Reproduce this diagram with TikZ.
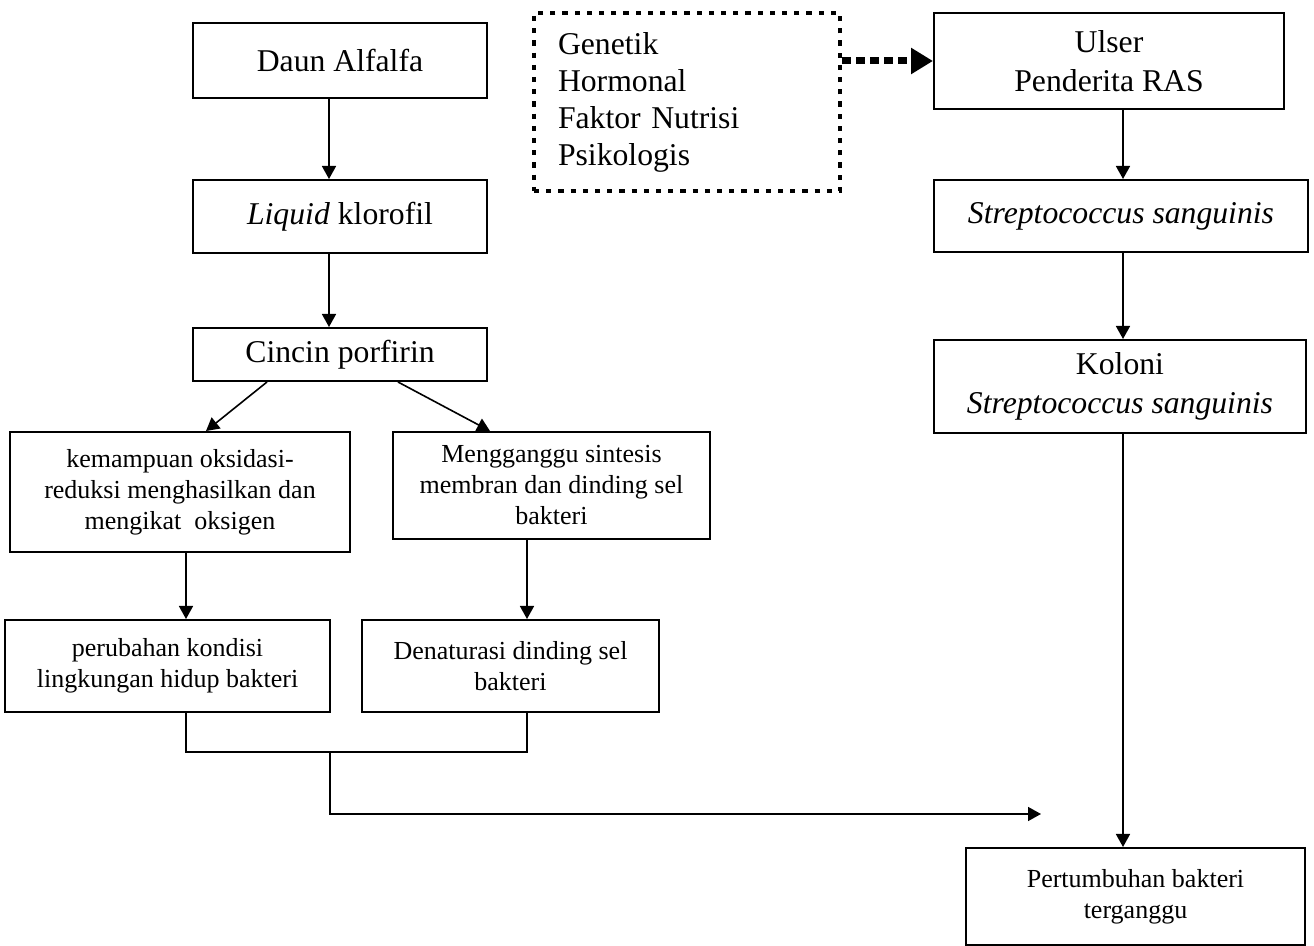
\documentclass[tikz,border=0pt]{standalone}
\usepackage{fontspec}
\setmainfont{Liberation Serif}
\usetikzlibrary{calc,arrows.meta}
\newcommand{\bigtxt}{\fontsize{15.85pt}{19.5pt}\selectfont}
\newcommand{\smalltxt}{\fontsize{13pt}{15.5pt}\selectfont}
\tikzset{
	box/.style={rectangle,draw,line width=1pt,align=center,inner sep=0pt,font=\bigtxt},
	small/.style={font=\smalltxt},
	boxsize/.style 2 args={minimum width=#1,minimum height=#2},
	factors/.style={rectangle,draw,line width=2.4pt,dash pattern=on 2.6pt off 3.5pt,align=left,
		text width=129pt,inner xsep=12pt,inner ysep=0pt,minimum height=89pt,
		font=\fontsize{15.85pt}{18.5pt}\selectfont},
	link/.style={line width=0.8pt},
	directed/.style={link,arrows={-Triangle[length=6.5pt,width=7pt]}},
	dotarrow/.style={line width=3.5pt,dash pattern=on 4.5pt off 2.5pt,arrows={-Triangle[length=11pt,width=12.5pt]}}
}

\begin{document}
\begin{tikzpicture}[x=0.5pt,y=-0.5pt]
	\useasboundingbox (0,0) rectangle (1314,946);
	
	\node[box,boxsize={147pt}{37.5pt}] (daun) at (340,60.5) {Daun Alfalfa};
	\node[box,boxsize={147pt}{36.5pt}] (liquid) at (340,216.5) {\textit{Liquid} klorofil};
	\node[box,boxsize={147pt}{26.5pt}] (cincin) at (340,354.5) {Cincin porfirin};
	\node[box,small,boxsize={170pt}{60pt}] (redoks) at (180,492) {kemampuan oksidasi-\\reduksi menghasilkan dan\\mengikat\ \ oksigen};
	\node[box,small,boxsize={158.5pt}{53.5pt}] (sintesis) at (551.5,485.5) {Mengganggu sintesis\\membran dan dinding sel\\bakteri};
	\node[box,small,boxsize={162.5pt}{46pt}] (kondisi) at (167.5,666) {perubahan kondisi\\lingkungan hidup bakteri};
	\node[box,small,boxsize={148.5pt}{46pt}] (denat) at (510.5,666) {Denaturasi dinding sel\\bakteri};
	
	\node[factors] (faktor) at (687,102) {Genetik\\Hormonal\\Faktor Nutrisi\\Psikologis};
	
	\node[box,boxsize={175pt}{48pt}] (ulser) at (1109,61) {Ulser\\Penderita RAS};
	\node[box,boxsize={187pt}{36pt}] (strep) at (1121,216) {\textit{Streptococcus sanguinis}};
	\node[box,boxsize={186pt}{46.5pt}] (koloni) at (1120,386.5) {Koloni\\\textit{Streptococcus sanguinis}};
	\node[box,small,boxsize={169.5pt}{48.5pt}] (tumbuh) at (1135.5,896.5) {Pertumbuhan bakteri\\terganggu};
	
	\coordinate (xa) at (329,0);
	\coordinate (xb) at (186,0);
	\coordinate (xc) at (527,0);
	\coordinate (xr) at (1123,0);
	\coordinate (join) at (330,752);
	\coordinate (tip) at (1041,814);
	
	\draw[directed] (daun.south -| xa) -- (liquid.north -| xa);
	\draw[directed] (liquid.south -| xa) -- (cincin.north -| xa);
	\draw[directed] ([xshift=-36.5pt]cincin.south) -- ([xshift=13pt]redoks.north);
	\draw[directed] ([xshift=29pt]cincin.south) -- ([xshift=-30.75pt]sintesis.north);
	\draw[directed] (redoks.south -| xb) -- (kondisi.north -| xb);
	\draw[directed] (sintesis.south -| xc) -- (denat.north -| xc);
	\draw[link] (kondisi.south -| xb) |- (join) -| (denat.south -| xc);
	\draw[directed] (join) |- (tip);
	
	\draw[dotarrow] (faktor.east |- ulser.west) -- (ulser.west);
	\draw[directed] (ulser.south -| xr) -- (strep.north -| xr);
	\draw[directed] (strep.south -| xr) -- (koloni.north -| xr);
	\draw[directed] (koloni.south -| xr) -- (tumbuh.north -| xr);
\end{tikzpicture}
\end{document}
